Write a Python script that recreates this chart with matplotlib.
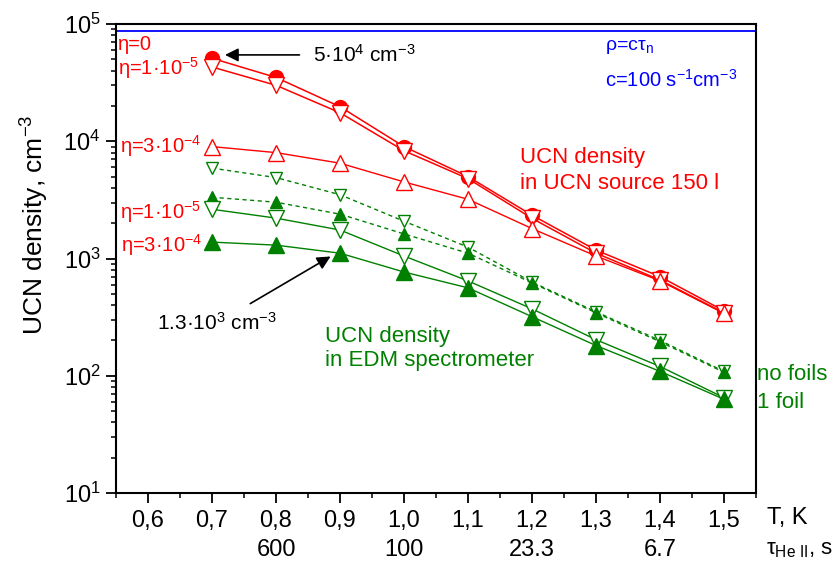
import numpy as np
import matplotlib
matplotlib.use("Agg")
from matplotlib import pyplot as plt
from matplotlib.ticker import LogLocator, NullFormatter, LogFormatterMathtext

plt.rcParams['font.family'] = ['Liberation Sans', 'DejaVu Sans']
plt.rcParams['mathtext.fontset'] = 'custom'
plt.rcParams['mathtext.rm'] = 'Liberation Sans'
plt.rcParams['mathtext.it'] = 'Liberation Sans:italic'
plt.rcParams['mathtext.default'] = 'regular'

# temperature, K
T = [0.7, 0.8, 0.9, 1.0, 1.1, 1.2, 1.3, 1.4, 1.5]

# UCN source 150 l
src_eta0 = [5.1e4, 3.5e4, 1.97e4, 9.0e3, 5.0e3, 2.34e3, 1.18e3, 700, 358]
src_eta1e5 = [4.3e4, 3.0e4, 1.75e4, 8.3e3, 4.8e3, 2.2e3, 1.11e3, 656, 344]
src_eta3e4 = [9.0e3, 8.0e3, 6.5e3, 4.5e3, 3.2e3, 1.8e3, 1.05e3, 645, 340]

# EDM spectrometer, no foils (dotted) and 1 foil (solid)
edm_nofoil_eta1e5 = [5.9e3, 4.9e3, 3.5e3, 2.08e3, 1.25e3, 630, 351, 200, 109]
edm_nofoil_eta3e4 = [3.33e3, 3.02e3, 2.39e3, 1.62e3, 1.11e3, 620, 344, 195, 107]
edm_foil_eta1e5 = [2.63e3, 2.21e3, 1.75e3, 1.05e3, 644, 372, 203, 120, 65]
edm_foil_eta3e4 = [1.38e3, 1.30e3, 1.11e3, 767, 562, 319, 181, 109, 63]

rho_max = 8.8e4  # rho = c * tau_n

xticks = [0.6, 0.7, 0.8, 0.9, 1.0, 1.1, 1.2, 1.3, 1.4, 1.5]
xticklabels = ['0,6', '0,7', '0,8', '0,9', '1,0', '1,1', '1,2', '1,3', '1,4', '1,5']
tau_pos = [0.8, 1.0, 1.2, 1.4]
tau_labels = ['600', '100', '23.3', '6.7']

red = '#ff0000'
green = '#008000'
blue = '#0000ff'

fig = plt.figure(figsize=(8.33, 5.70), dpi=100)
ax = fig.add_axes([116 / 833, 77 / 570, 640 / 833, 469 / 570])

ax.axhline(rho_max, color=blue, lw=1.3)

ax.plot(T, src_eta0, color=red, lw=1.1, marker='o', ms=10, mfc=red, mec=red)
ax.plot(T, src_eta1e5, color=red, lw=1.1, marker='v', ms=11, mfc='white', mec=red)
ax.plot(T, src_eta3e4, color=red, lw=1.0, marker='^', ms=12, mfc='white', mec=red)

ax.plot(T, edm_nofoil_eta1e5, color=green, lw=1.0, ls=(0, (3, 2.5)), marker='v', ms=8,
        mfc='white', mec=green)
ax.plot(T, edm_nofoil_eta3e4, color=green, lw=1.0, ls=(0, (3, 2.5)), marker='^', ms=8,
        mfc=green, mec=green)
ax.plot(T, edm_foil_eta1e5, color=green, lw=1.0, marker='v', ms=11, mfc='white', mec=green)
ax.plot(T, edm_foil_eta3e4, color=green, lw=1.0, marker='^', ms=11, mfc=green, mec=green)

ax.set_yscale('log')
ax.set_xlim(0.55, 1.55)
ax.set_ylim(10, 1e5)

ax.set_xticks(xticks)
ax.set_xticklabels(xticklabels)
ax.set_xticks(np.arange(0.55, 1.56, 0.1), minor=True)
ax.yaxis.set_major_locator(LogLocator(base=10, numticks=10))
ax.yaxis.set_major_formatter(LogFormatterMathtext())
ax.yaxis.set_minor_locator(LogLocator(base=10, subs=np.arange(2, 10), numticks=20))
ax.yaxis.set_minor_formatter(NullFormatter())

ax.tick_params(which='major', direction='out', length=7, width=1.3, labelsize=17, pad=4)
ax.tick_params(which='minor', direction='out', length=3.5, width=1.1)
ax.tick_params(axis='x', which='major', pad=5)
for s in ax.spines.values():
    s.set_linewidth(1.5)

# eta labels
ax.text(0.553, 6.7e4, 'η=0', color=red, fontsize=14.5, va='center', ha='left')
ax.text(0.553, 4.2e4, 'η=1·10$^{-5}$', color=red, fontsize=14.5, va='center', ha='left')
ax.text(0.556, 9.1e3, 'η=3·10$^{-4}$', color=red, fontsize=14.5, va='center', ha='left')
ax.text(0.556, 2.5e3, 'η=1·10$^{-5}$', color=red, fontsize=14.5, va='center', ha='left')
ax.text(0.558, 1.3e3, 'η=3·10$^{-4}$', color=red, fontsize=14.5, va='center', ha='left')

ax.annotate('', xy=(0.716, 5.45e4), xytext=(0.841, 5.45e4),
            arrowprops=dict(arrowstyle='-|>', color='k', lw=1.2, mutation_scale=20))
ax.text(0.858, 5.45e4, '5·10$^{4}$ cm$^{-3}$', fontsize=15, va='center', ha='left')

ax.annotate('', xy=(0.889, 1.07e3), xytext=(0.756, 401),
            arrowprops=dict(arrowstyle='-|>', color='k', lw=1.2, mutation_scale=20))
ax.text(0.614, 282, '1.3·10$^{3}$ cm$^{-3}$', fontsize=15, va='center', ha='left')

ax.text(1.314, 6.4e4, 'ρ=cτ$_{n}$', color=blue, fontsize=14, va='center', ha='left')
ax.text(1.314, 3.33e4, 'c=100 s$^{-1}$cm$^{-3}$', color=blue, fontsize=14.5, va='center', ha='left')

ax.text(1.181, 7.2e3, 'UCN density', color=red, fontsize=16, va='center', ha='left')
ax.text(1.181, 4.4e3, 'in UCN source 150 l', color=red, fontsize=16, va='center', ha='left')

ax.text(0.877, 218, 'UCN density', color=green, fontsize=16, va='center', ha='left')
ax.text(0.877, 136, 'in EDM spectrometer', color=green, fontsize=16, va='center', ha='left')

fig.text(757 / 833, 1 - 375 / 570, 'no foils', color=green, fontsize=16, va='center', ha='left')
fig.text(757 / 833, 1 - 402 / 570, '1 foil', color=green, fontsize=16, va='center', ha='left')

# second x scale: He II lifetime
xtr = ax.get_xaxis_transform()
for p, lab in zip(tau_pos, tau_labels):
    ax.text(p, -57 / 469, lab, transform=xtr, fontsize=17, ha='center', va='center')
fig.text(767 / 833, 1 - 518 / 570, 'T, K', fontsize=17, va='center', ha='left')
fig.text(766 / 833, 1 - 550 / 570, 'τ$_{He\\ II}$, s', fontsize=16, va='center', ha='left')

fig.text(35 / 833, 1 - 225 / 570, 'UCN density, cm$^{-3}$', fontsize=19, rotation=90,
         va='center', ha='center')

plt.savefig('out.png', dpi=100)
